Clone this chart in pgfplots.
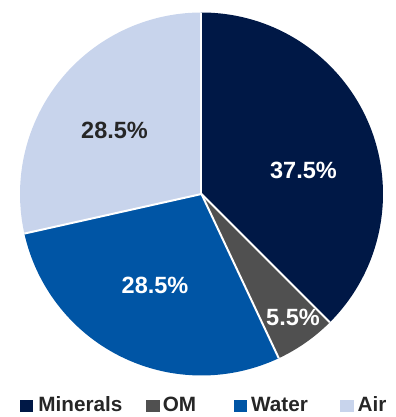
\documentclass[border=0pt]{standalone}
\usepackage{fontspec}
\setmainfont{Liberation Sans}
\usepackage{pgfplots}
\pgfplotsset{compat=1.18}
\definecolor{cMin}{RGB}{0,24,70}
\definecolor{cOM}{RGB}{80,80,80}
\definecolor{cWat}{RGB}{0,85,165}
\definecolor{cAir}{RGB}{200,212,236}
\definecolor{cTxt}{RGB}{38,38,38}
% data (percent)
\def\vMin{37.5}\def\vOM{5.5}\def\vWat{28.5}\def\vAir{28.5}
\pgfmathsetmacro\aA{90}
\pgfmathsetmacro\aB{\aA-3.6*\vMin}
\pgfmathsetmacro\aC{\aB-3.6*\vOM}
\pgfmathsetmacro\aD{\aC-3.6*\vWat}
\pgfmathsetmacro\aE{\aD-3.6*\vAir}
\newcommand\slice[3]{\fill[#3] (axis cs:0,0) -- (axis cs:{cos(#1)},{sin(#1)}) arc[start angle=#1,end angle=#2,radius=181.5pt] -- cycle;}
\newcommand\sep[1]{\draw[white,line width=2pt] (axis cs:0,0) -- (axis cs:{cos(#1)},{sin(#1)});}
\begin{document}
\begin{tikzpicture}
\begin{axis}[
  x=181.5pt, y=181.5pt,
  xmin=-1.1102, xmax=1.0716, ymin=-1.2287, ymax=1.0689,
  hide axis, clip=false,
  legend columns=4,
  legend style={at={(0.0505,0.0288)}, anchor=west, draw=none, fill=none,
    inner sep=0pt, outer sep=0pt, nodes={inner sep=0pt},
    font=\fontsize{20.7}{20.7}\selectfont\bfseries, text=cTxt,
    /tikz/every odd column/.append style={column sep=0pt},
    /tikz/every even column/.append style={column sep=0pt}},
  legend cell align=left,
]
\path (rel axis cs:0,0) rectangle (rel axis cs:1,1);
\slice{\aA}{\aB}{cMin}
\slice{\aB}{\aC}{cOM}
\slice{\aC}{\aD}{cWat}
\slice{\aD}{\aE}{cAir}
\sep{\aA}\sep{\aB}\sep{\aC}\sep{\aD}
\node[text=white,font=\fontsize{23.5}{23.5}\selectfont\bfseries] at (axis cs:0.562,0.132) {37.5\%};
\node[text=white,font=\fontsize{23.5}{23.5}\selectfont\bfseries] at (axis cs:0.504,-0.680) {5.5\%};
\node[text=white,font=\fontsize{23.5}{23.5}\selectfont\bfseries] at (axis cs:-0.256,-0.501) {28.5\%};
\node[text=cTxt,font=\fontsize{23.5}{23.5}\selectfont\bfseries] at (axis cs:-0.479,0.353) {28.5\%};
\addlegendimage{legend image code/.code={\fill[cMin] (0pt,-6pt) rectangle (12.5pt,5pt); \path (18pt,0pt);}}
\addlegendentry{\makebox[108pt][l]{Minerals}}
\addlegendimage{legend image code/.code={\fill[cOM] (0pt,-6pt) rectangle (12.5pt,5pt); \path (16pt,0pt);}}
\addlegendentry{\makebox[71pt][l]{OM}}
\addlegendimage{legend image code/.code={\fill[cWat] (0pt,-6pt) rectangle (12.5pt,5pt); \path (17pt,0pt);}}
\addlegendentry{\makebox[89pt][l]{Water}}
\addlegendimage{legend image code/.code={\fill[cAir] (0pt,-6pt) rectangle (12.5pt,5pt); \path (17pt,0pt);}}
\addlegendentry{Air}
\end{axis}
\end{tikzpicture}
\end{document}
